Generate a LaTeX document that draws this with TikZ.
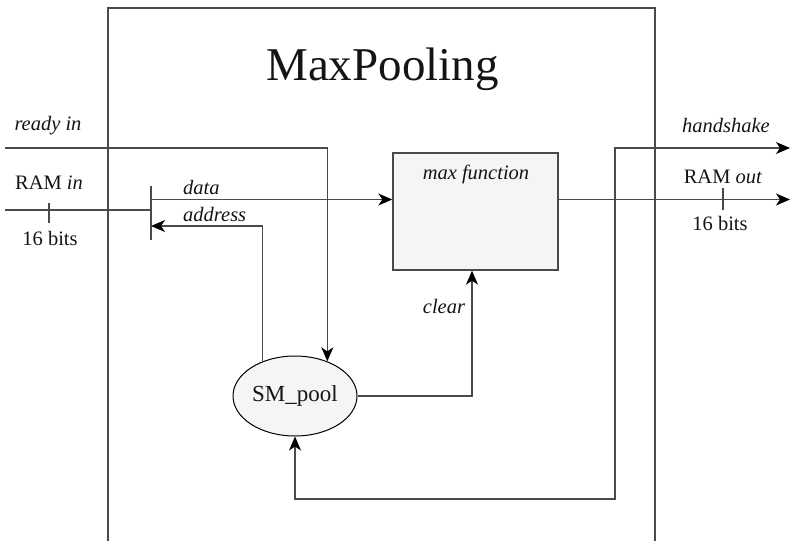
\documentclass[tikz,border=0pt]{standalone}
\usepackage{fontspec}
\setmainfont{Liberation Serif}
\usetikzlibrary{arrows.meta,shapes.geometric}
\definecolor{wirecol}{HTML}{4A4A4A}
\definecolor{boxfill}{HTML}{F5F5F5}
\definecolor{labelcol}{HTML}{141414}
\begin{document}
\begin{tikzpicture}[x=1pt,y=-1pt,
  wire/.style={draw=wirecol,line width=1.4pt},
  tip/.tip={Stealth[length=14pt,width=12pt,inset=4pt,color=black]},
  sig/.style={wire,-tip},
  sigboth/.style={wire,tip-tip},
  lbl/.style={inner sep=0pt,anchor=base,text=labelcol,font=\fontsize{20.5}{24}\selectfont},
  ilbl/.style={lbl,font=\fontsize{20.5}{24}\selectfont\itshape},
  block/.style={draw=wirecol,line width=1.4pt,fill=boxfill,minimum width=165pt,minimum height=117pt,inner sep=0pt},
  fsm/.style={ellipse,draw=black,line width=1pt,fill=boxfill,minimum width=124pt,minimum height=80pt,inner sep=0pt,text=labelcol,font=\fontsize{23}{27}\selectfont}
]
\useasboundingbox (0,0) rectangle (793,541);

% module frame, open at the bottom
\draw[wire] (108,548) -- (108,8) -- (655,8) -- (655,548);
\node[lbl,font=\fontsize{47}{56}\selectfont] (title) at (382.5,80) {MaxPooling};

% blocks
\node[block] (mf) at (475.5,211.5) {};
\node[ilbl] (mflbl) at (476,179) {max function};
\node[fsm] (sm) at (295,396) {SM\_pool};

% input side
\coordinate (rdyin) at (5,148);
\coordinate (ramin) at (5,210);
\coordinate (busT) at (151,186);
\coordinate (busB) at (151,240);
\coordinate (busR) at (151,210);
\coordinate (busD) at (151,199.5);
\coordinate (busA) at (151,226);
\draw[wire] (busT) -- (busB);
\draw[wire] (ramin) -- (busR);
\draw[wire] (49,203) -- (49,223);
\node[ilbl] (lrdy) at (48,130) {ready in};
\node[lbl] (lramin) at (49,189) {RAM \textit{in}};
\node[lbl] (lbitsin) at (50,245) {16 bits};

\draw[sig] (rdyin) -- (rdyin -| sm.47) -- (sm.47);
\draw[sig] (busD) -- (busD -| mf.west);
\node[ilbl,anchor=base west] (ldata) at (183,194) {data};
\draw[sig] (sm.133) |- (busA);
\node[ilbl,anchor=base west] (laddr) at (183,221) {address};

% clear from the state machine
\draw[sig] (sm.east) -| ([xshift=-3.5pt]mf.south);
\node[ilbl] (lclear) at (444,313) {clear};

% output side
\coordinate (ramout) at (790,199.5);
\coordinate (hs) at (790,148);
\coordinate (fbR) at (615,499);
\draw[sig] (busD -| mf.east) -- (ramout);
\draw[wire] (723,188) -- (723,210);
\node[lbl] (lramout) at (723,183) {RAM \textit{out}};
\node[lbl] (lbitsout) at (720,230) {16 bits};

\draw[sigboth] (sm.south) |- (fbR) |- (hs);
\node[ilbl] (lhs) at (726,132) {handshake};
\end{tikzpicture}
\end{document}
